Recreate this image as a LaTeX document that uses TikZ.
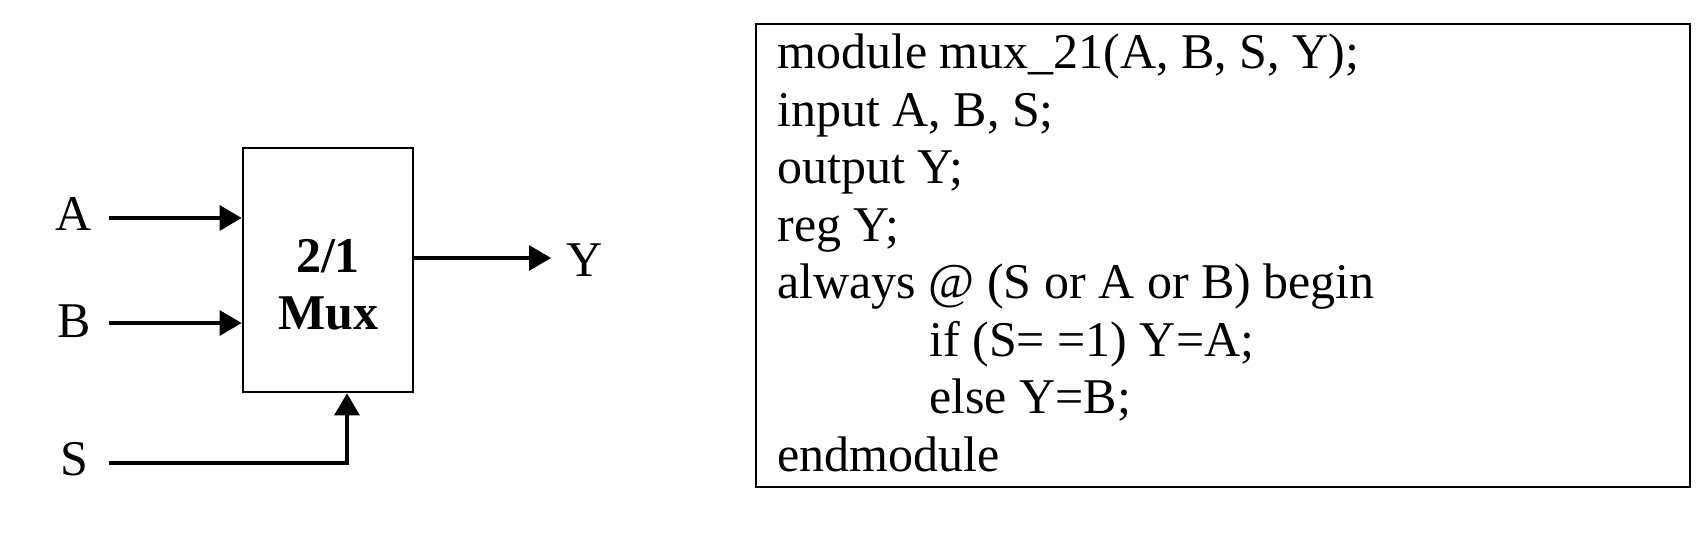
\documentclass[tikz,border=0pt]{standalone}
\usepackage{fontspec}
\setmainfont{Liberation Serif}
\usetikzlibrary{arrows.meta}
\begin{document}
\begin{tikzpicture}[x=0.5pt,y=-0.5pt,
  wire/.style={line width=1.6pt},
  arr/.style={wire,-{Triangle[length=11pt,width=12.5pt]}},
  lbl/.style={inner sep=0pt,anchor=base,font=\fontsize{25}{28.75}\selectfont},
  boldlbl/.style={inner sep=0pt,anchor=base,font=\fontsize{25}{28.75}\selectfont\bfseries},
  codeline/.style={inner sep=0pt,anchor=base west,font=\fontsize{25}{28.75}\selectfont},
  muxbox/.style={draw,line width=1.35pt,minimum width=85pt,minimum height=122pt,inner sep=0pt},
  codebox/.style={draw,line width=1pt,minimum width=467pt,minimum height=231.5pt,inner sep=0pt}]
\useasboundingbox (0,0) rectangle (1701,533);

% multiplexer block
\node[muxbox] (mux) at (328,270) {};
\node[boldlbl] (t21) at (328,273) {2/1};
\node[boldlbl] (tmux) at (328,330) {Mux};

% port labels
\node[lbl] (la) at (74,231) {A};
\node[lbl] (lb) at (74,338) {B};
\node[lbl] (ls) at (74,475) {S};
\node[lbl] (ly) at (585,277) {Y};

% wires
\coordinate (ain) at (109,218);
\coordinate (bin) at (109,323);
\coordinate (sin) at (109,463);
\coordinate (sel) at (347,392);
\coordinate (yout) at (551,258);
\draw[arr] (ain) -- (ain -| mux.west);
\draw[arr] (bin) -- (bin -| mux.west);
\draw[arr] (sin) -| (sel |- mux.south);
\draw[arr] (yout -| mux.east) -- (yout);

% Verilog code
\node[codebox] (code) at (1223,255.5) {};
\node[codeline] (l1) at (777,69) {module mux\_21(A, B, S, Y);};
\node[codeline] (l2) at (777,126.5) {input A, B, S;};
\node[codeline] (l3) at (777,184) {output Y;};
\node[codeline] (l4) at (777,241.5) {reg Y;};
\node[codeline] (l5) at (777,299) {always @ (S or A or B) begin};
\node[codeline] (l6) at (929,356.5) {if (S= =1) Y=A;};
\node[codeline] (l7) at (929,414) {else Y=B;};
\node[codeline] (l8) at (777,471.5) {endmodule};
\end{tikzpicture}
\end{document}
